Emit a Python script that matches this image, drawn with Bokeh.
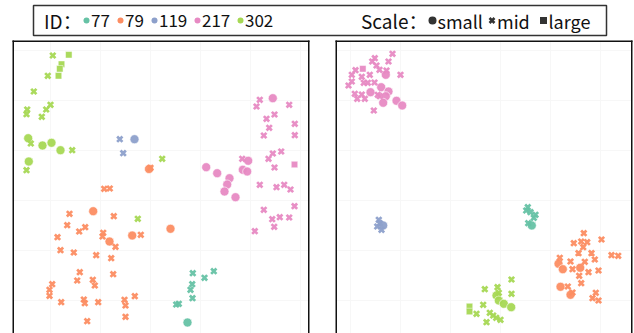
from bokeh.plotting import figure
from bokeh.models import Range1d, Span, ColumnDataSource
from bokeh.layouts import column, row
from bokeh.embed import file_html
from bokeh.resources import INLINE
from bokeh.core.properties import value

# ---------------- categories ----------------
ID_LABELS = ["77", "79", "119", "217", "302"]
ID_COLORS = ["#66c2a5", "#fc8d62", "#8da0cb", "#e78ac3", "#a6d854"]
SCALE_LABELS = ["small", "mid", "large"]

# ---------------- data: embedding coordinates ----------------
# left panel
L302_x = [52.3, 68.3, 61, 59.3, 58, 47.3, 33.3, 50, 45.7, 26.7, 26, 41.3, 27.7, 30.3, 42, 51, 60, 71.7, 28.3, 26, 161.7, 137.3]
L302_y = [55, 54.3, 63.7, 68.3, 75.3, 75.3, 91, 104.3, 109, 109, 113.7, 116.3, 137.7, 143, 145, 142.3, 149.7, 149.7, 161, 169.7, 158.3, 218.3]
L302_s = ["mid", "large", "large", "large", "large", "mid", "mid", "mid", "mid", "mid", "mid", "mid", "small", "mid", "small", "small", "small", "mid", "small", "mid", "mid", "mid"]

L119_x = [119.3, 134, 122.7]
L119_y = [138.7, 138.7, 152.7]
L119_s = ["mid", "small", "mid"]

L79_x = [150, 148.5, 103.7, 109.3, 92.7, 69, 113.3, 66.7, 84.7, 78.7, 102.7, 102, 131.7, 140.3, 170, 57, 109, 115, 60, 73.3, 95.7, 110.7, 79.3, 112.7, 76.7, 92.3, 94.3, 51.7, 49, 49, 60.7, 83.3, 84.3, 97.7, 124, 125, 134.3, 125, 86.7]
L79_y = [167.3, 168.5, 188.3, 188, 210.7, 213.3, 215.7, 224.7, 226.7, 231, 232.3, 236, 235, 234.3, 228.3, 236.7, 241, 246.3, 249.7, 252, 254.7, 257.7, 271.7, 273.7, 280, 279.3, 285, 283.7, 289.3, 295.3, 301.7, 299, 302.7, 301.7, 299.3, 305, 295.7, 316.3, 320.7]
L79_s = ["mid", "small", "mid", "mid", "small", "mid", "mid", "mid", "mid", "mid", "mid", "mid", "small", "mid", "small", "mid", "small", "mid", "mid", "mid", "mid", "mid", "mid", "mid", "mid", "mid", "mid", "mid", "mid", "mid", "mid", "mid", "mid", "mid", "mid", "mid", "mid", "mid", "mid"]

L217_x = [259.3, 256, 272.3, 288.7, 274, 266, 294.3, 268.7, 263.3, 294.3, 280.7, 272.3, 268, 241.7, 247.7, 294, 274, 205.7, 216.7, 242.3, 246.7, 229, 226.7, 224, 235, 259.3, 276, 283.7, 290, 294, 263.3, 271.7, 279.3, 288.7, 273.7, 254.3]
L217_y = [99.3, 106, 97.7, 104.3, 114, 118.3, 123.3, 127.3, 135, 134.7, 151, 153, 158.3, 158.3, 160.3, 164, 167, 166.7, 172.7, 169.3, 171, 177.7, 184, 191, 196.7, 184.3, 186.7, 184.3, 189, 205.7, 209.3, 218.7, 216.7, 217, 226.3, 230.7]
L217_s = ["mid", "mid", "small", "mid", "mid", "mid", "mid", "mid", "mid", "mid", "mid", "mid", "mid", "mid", "small", "large", "mid", "small", "small", "small", "small", "small", "small", "small", "small", "mid", "mid", "mid", "mid", "mid", "mid", "mid", "mid", "mid", "mid", "mid"]

L77_x = [192.3, 213.3, 204, 191.7, 190, 192, 178.3, 175.7, 187]
L77_y = [272.7, 270.7, 277.3, 283.7, 289.3, 297.7, 303.3, 304, 322]
L77_s = ["mid", "mid", "mid", "mid", "mid", "mid", "mid", "mid", "small"]

# right panel
R217_x = [392, 374.3, 388, 371.7, 376, 379, 386, 355, 362.3, 351.3, 361.3, 369.3, 385.3, 400, 351.3, 363.3, 367.3, 374, 348, 380.7, 370, 388, 354.3, 361.3, 377.3, 385.3, 379.3, 356.7, 364.3, 382.7, 396, 401.7, 373.3]
R217_y = [53.3, 57.7, 61, 61, 65, 69.3, 70, 69.7, 68.3, 74.3, 76.3, 74.3, 74.3, 74.3, 81, 82.3, 82.3, 82, 85, 86.7, 91.7, 91, 93.3, 94, 94.3, 95.7, 95.7, 98.3, 98.3, 102.3, 100.3, 105, 110]
R217_s = ["mid", "mid", "mid", "mid", "mid", "mid", "mid", "mid", "large", "mid", "mid", "mid", "small", "mid", "mid", "mid", "mid", "mid", "mid", "small", "small", "small", "mid", "mid", "mid", "small", "mid", "mid", "mid", "small", "small", "small", "mid"]

R119_x = [379.3, 378.3, 376.7, 381, 382.7]
R119_y = [222.7, 219.3, 226, 229.3, 225]
R119_s = ["mid", "mid", "mid", "mid", "small"]

R77_x = [527.3, 525.7, 530, 535, 533.3, 527.7, 531.3]
R77_y = [206.7, 210, 211.7, 214.3, 217.3, 222.7, 225]
R77_s = ["mid", "mid", "mid", "mid", "mid", "mid", "small"]

R79_x = [583.3, 601, 573.3, 580.7, 586.7, 582.7, 578, 591, 611, 617.7, 559.3, 570, 594.3, 584.3, 558, 562.3, 572, 579.7, 588, 598, 578.7, 580.7, 560, 567.3, 570, 572, 595.3, 592, 598]
R79_y = [232.7, 239, 242.7, 241, 241.7, 246.7, 252.7, 252.7, 254.7, 255.3, 257.3, 261, 259, 261.3, 263.3, 268.7, 268.7, 267.3, 271.7, 270, 275.3, 282.7, 286.3, 286, 294.3, 292, 292.3, 297.7, 300]
R79_s = ["mid", "mid", "mid", "mid", "mid", "mid", "mid", "mid", "mid", "mid", "mid", "mid", "mid", "mid", "small", "small", "mid", "small", "mid", "mid", "mid", "mid", "small", "mid", "small", "mid", "mid", "mid", "mid"]

R302_x = [511, 484.3, 497, 511, 496, 498.3, 498.3, 503.3, 510.7, 482.7, 469, 469, 476, 489.3, 492.7, 495.7, 500, 486]
R302_y = [279, 288.7, 286.7, 293.3, 295, 292.3, 300, 303.3, 306.7, 304.3, 306, 311, 313.3, 312.3, 315, 317.3, 319.3, 321.7]
R302_s = ["mid", "mid", "mid", "mid", "small", "mid", "small", "small", "small", "mid", "large", "large", "mid", "mid", "mid", "mid", "mid", "mid"]

LEFT = {"302": (L302_x, L302_y, L302_s), "119": (L119_x, L119_y, L119_s),
        "79": (L79_x, L79_y, L79_s), "217": (L217_x, L217_y, L217_s),
        "77": (L77_x, L77_y, L77_s)}
RIGHT = {"217": (R217_x, R217_y, R217_s), "119": (R119_x, R119_y, R119_s),
         "77": (R77_x, R77_y, R77_s), "79": (R79_x, R79_y, R79_s),
         "302": (R302_x, R302_y, R302_s)}

LEFT_XLIM = (12, 309)
RIGHT_XLIM = (335, 632)
YLIM = (333, 40)

FONT = "Noto Sans CJK SC"


def panel(groups, xlim, width, mbl, mbr):
    p = figure(width=width, height=296, output_backend="svg", toolbar_location=None,
               x_range=Range1d(*xlim), y_range=Range1d(*YLIM),
               min_border_left=mbl, min_border_right=mbr, min_border_top=3, min_border_bottom=0)
    p.axis.visible = False
    p.grid.grid_line_color = "#f7f7f7"
    p.outline_line_color = None
    p.background_fill_color = "white"
    p.border_fill_color = "white"
    color_of = dict(zip(ID_LABELS, ID_COLORS))
    for gid, (xs, ys, ss) in groups.items():
        c = color_of[gid]
        for sc in SCALE_LABELS:
            idx = [i for i, s in enumerate(ss) if s == sc]
            if not idx:
                continue
            src = ColumnDataSource(dict(x=[xs[i] for i in idx], y=[ys[i] for i in idx]))
            if sc == "small":
                p.scatter("x", "y", source=src, marker="circle", size=9, fill_color=c,
                          line_color="white", line_width=0.6, fill_alpha=0.95)
            elif sc == "mid":
                p.scatter("x", "y", source=src, marker="x", size=7.5, line_color=c,
                          line_width=2.7, line_alpha=0.95)
            else:
                p.scatter("x", "y", source=src, marker="square", size=6.5, fill_color=c,
                          line_color="white", line_width=0.5, fill_alpha=0.95)
    for loc, dim in ((xlim[0], "height"), (xlim[1], "height"), (YLIM[1], "width")):
        p.add_layout(Span(location=loc, dimension=dim, line_color="#111111",
                          line_width=3, line_cap="square"))
    return p


left = panel(LEFT, LEFT_XLIM, 322, 12, 13)
right = panel(RIGHT, RIGHT_XLIM, 312, 13, 2)

# ---------------- legend ----------------
leg = figure(width=634, height=37, output_backend="svg", toolbar_location=None,
             x_range=Range1d(0, 573), y_range=Range1d(0, 30),
             min_border_left=33, min_border_right=28, min_border_top=5, min_border_bottom=2)
leg.axis.visible = False
leg.grid.visible = False
leg.outline_line_color = "#333333"
leg.outline_line_width = 1.5

id_dot_x = [53, 87, 121, 164, 207]
scale_mark_x = [399, 458.5, 510]
scale_markers = ["circle", "x", "square"]

leg.text(x=[10.5], y=[15], text=["ID："], text_font=value(FONT), text_font_size="19px",
         text_baseline="middle", text_color="#111111")
leg.scatter(x=id_dot_x, y=[15] * 5, marker="circle", size=6, fill_color=ID_COLORS, line_color=None)
leg.text(x=[v + 4.5 for v in id_dot_x], y=[15] * 5, text=ID_LABELS, text_font=value(FONT),
         text_font_size="17px", text_baseline="middle", text_color="#111111")

leg.text(x=[327.5], y=[15], text=["Scale："], text_font=value(FONT), text_font_size="19px",
         text_baseline="middle", text_color="#111111")
for mx, mk in zip(scale_mark_x, scale_markers):
    if mk == "x":
        leg.scatter(x=[mx], y=[15], marker="x", size=7, line_color="#333333", line_width=2.6)
    else:
        leg.scatter(x=[mx], y=[15], marker=mk, size=8 if mk == "circle" else 7,
                    fill_color="#333333", line_color=None)
leg.text(x=[v + 5 for v in scale_mark_x], y=[15] * 3, text=SCALE_LABELS, text_font=value(FONT),
         text_font_size="18px", text_baseline="middle", text_color="#111111")

layout = column(leg, row(left, right, spacing=0), spacing=0)
open("out.html", "w").write(file_html(layout, INLINE))
